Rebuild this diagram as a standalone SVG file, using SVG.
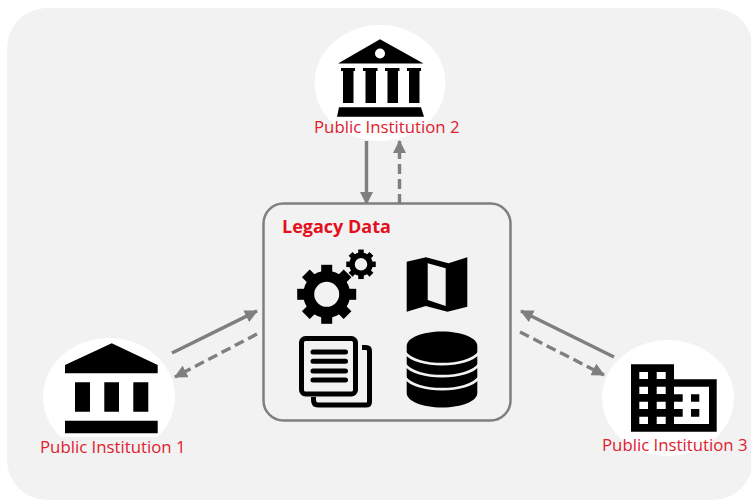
<svg xmlns="http://www.w3.org/2000/svg" width="751" height="500" viewBox="0 0 751 500">
<style>
.lbl{font-family:"Open Sans","Liberation Sans",sans-serif;font-size:16.8px;fill:#e0202e}
.disc{fill:#fff}
.k{fill:#000}
.c{fill:none;stroke:#7f7f7f;stroke-width:3.4}
.d{stroke-dasharray:10 5}
</style>
<defs>
<marker id="ah" markerUnits="userSpaceOnUse" markerWidth="14" markerHeight="13" refX="12" refY="6.500" orient="auto"><path d="M0 0L13 6.500L0 13Z" fill="#7f7f7f"/></marker>
<g id="tooth"><rect x="-5.500" y="-29.500" width="11" height="11"/></g>
<g id="teeth"><use href="#tooth"/><use href="#tooth" transform="rotate(90)"/><use href="#tooth" transform="rotate(180)"/><use href="#tooth" transform="rotate(270)"/></g>
<g id="gear">
<circle r="18" fill="none" stroke="#000" stroke-width="11"/>
<use href="#teeth"/>
<use href="#teeth" transform="rotate(45)"/>
</g>
</defs>
<rect id="background" x="7" y="8" width="746" height="492" rx="40" fill="#f2f2f2"/>
<g id="connectors">
<path class="c" d="M366.500 141V204" marker-end="url(#ah)"/>
<path class="c d" d="M399.500 204V141" marker-end="url(#ah)"/>
<path class="c" d="M172 353L257 311" marker-end="url(#ah)"/>
<path class="c d" d="M257 334L175 377" marker-end="url(#ah)"/>
<path class="c" d="M614 357L521 311" marker-end="url(#ah)"/>
<path class="c d" d="M520 332L604 375" marker-end="url(#ah)"/>
</g>
<g id="institution-2">
<ellipse class="disc" cx="380" cy="83" rx="65.500" ry="58"/>
<path class="k" d="M338 63.500L380 39.300L423.500 63.500Z"/>
<circle cx="380" cy="53.500" r="5" fill="#fff"/>
<path class="k" d="M341 68H355V71H353.500V103H343V71H341ZM363 68H377.500V71H376V103H365.500V71H363ZM385 68H399.500V71H398V103H387.500V71H385ZM407 68H421V71H419.500V103H409V71H407ZM339 107.300H421L424 116.700H337Z"/>
<text class="lbl" x="314" y="133">Public Institution 2</text>
</g>
<g id="legacy-data">
<rect x="263.500" y="203.500" width="247" height="217" rx="20" fill="#f2f2f2" stroke="#7f7f7f" stroke-width="2.500"/>
<text x="282" y="233" font-family="'Open Sans','Liberation Sans',sans-serif" font-size="18" font-weight="700" fill="#e3101e">Legacy Data</text>
<use href="#gear" transform="translate(326.700 294.300)"/>
<use href="#gear" transform="translate(361 264.300) scale(.5)"/>
<path class="k" fill-rule="evenodd" d="M406.700 261.700L426 257.300L448.500 263.300L467.300 257.300V306.700L447.500 311.700L425.700 306L406.700 311.700ZM427.700 263.300V300L445.700 306V268.300Z"/>
<g id="docs">
<path d="M362 347.500H366Q369.500 347.500 369.500 351V402Q369.500 405 366 405H318Q313.500 405 313.500 400V397" fill="none" stroke="#000" stroke-width="5"/>
<rect x="301.500" y="338.500" width="54" height="55.500" rx="4" fill="#f2f2f2" stroke="#000" stroke-width="5"/>
<path d="M313 352H345.500M313 361.300H345.500M313 371H345.500M313 380H345.500" stroke="#000" stroke-width="5" stroke-linecap="round"/>
</g>
<g id="database">
<path class="k" d="M406.700 346C406.700 338 422 331.500 442 331.500S477.300 338 477.300 346V393C477.300 401 462 407.500 442 407.500S406.700 401 406.700 393Z"/>
<path d="M405 352.500C416 368 468 368 479 352.500M405 364.500C416 380 468 380 479 364.500M405 377.500C416 393 468 393 479 377.500" fill="none" stroke="#f2f2f2" stroke-width="2.800"/>
</g>
</g>
<g id="institution-1">
<path class="disc" d="M60.500 437A66 59 0 1 1 157.500 437Z"/>
<path class="k" d="M65 365L111.700 343.300L157.700 365V373.300H65ZM75 382.300H90V411.700H75ZM104.300 382.300H119V411.700H104.300ZM133.300 382.300H148.300V411.700H133.300ZM65 420.700H157.700V433.300H65Z"/>
<text class="lbl" x="40" y="453">Public Institution 1</text>
</g>
<g id="institution-3">
<ellipse class="disc" cx="668" cy="398" rx="66" ry="58"/>
<path class="k" fill-rule="evenodd" d="M631 364.300H674V379.300H716.700V431.700H631ZM639.300 372V379H648V372ZM656.700 372V379H665.700V372ZM639.300 386.700V394H648V386.700ZM656.700 386.700V394H665.700V386.700ZM639.300 401.700V409H648V401.700ZM656.700 401.700V409H665.700V401.700ZM639.300 416.700V424H648V416.700ZM656.700 416.700V424H665.700V416.700ZM674 386.700V394.300H682.700V401.700H674V409H682.700V416.700H674V424H709V386.700ZM691 394.300H699.300V401.700H691ZM691 409H699.300V416.700H691Z"/>
<text class="lbl" x="602" y="451">Public Institution 3</text>
</g>
</svg>
